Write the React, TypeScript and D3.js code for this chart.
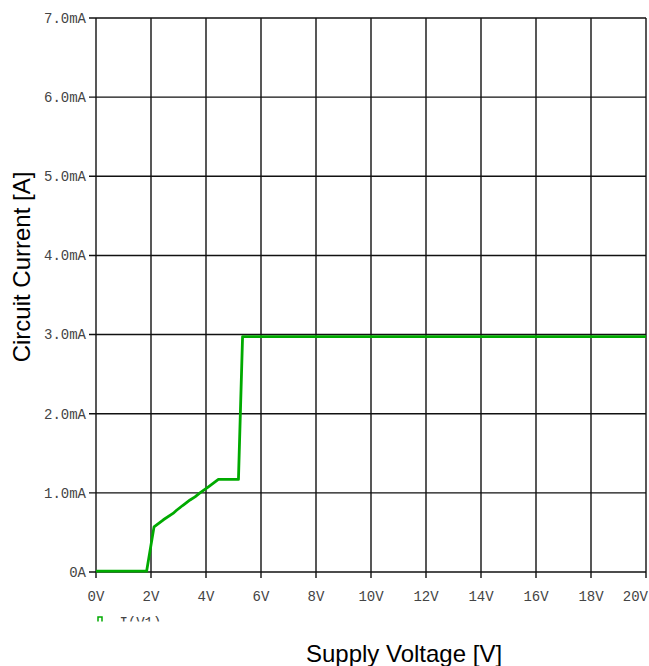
import React from 'react';
import * as d3 from 'd3';

// supply voltage [V] and circuit current [mA]
const voltage = [0, 1.84, 2.11, 2.45, 2.8, 2.93, 3.15, 3.42, 3.6, 3.78, 4.1, 4.45, 5.18, 5.33, 20];
const current = [0.01, 0.01, 0.57, 0.66, 0.74, 0.78, 0.84, 0.91, 0.95, 1.0, 1.08, 1.17, 1.17, 2.975, 2.975];

const xTicks = [0, 2, 4, 6, 8, 10, 12, 14, 16, 18, 20];
const yTicks = [0, 1, 2, 3, 4, 5, 6, 7];
const xTickLabels = xTicks.map(v => `${v}V`);
const yTickLabels = yTicks.map(v => (v === 0 ? '0A' : `${v.toFixed(1)}mA`));

const seriesName = '-I(V1)';

const width = 649;
const height = 666;
const left = 96;
const right = 646;
const top = 18;
const bottom = 572;

export default function App() {
  const x = d3.scaleLinear().domain([0, 20]).range([left, right]);
  const y = d3.scaleLinear().domain([0, 7]).range([bottom, top]);

  const points: [number, number][] = voltage.map((v, i) => [v, current[i]]);
  const line = d3.line<[number, number]>()
    .x(d => x(d[0]))
    .y(d => y(d[1]));

  const tickFont = '"Liberation Mono", "DejaVu Sans Mono", monospace';
  const titleFont = '"Liberation Sans", Arial, sans-serif';

  return (
    <svg
      width={width}
      height={height}
      style={{ position: 'absolute', left: 0, top: 0, background: '#fff' }}
    >
      <defs>
        <clipPath id="legendClip">
          <rect x={0} y={0} width={width} height={621.5} />
        </clipPath>
      </defs>

      {/* grid */}
      {xTicks.map(t => (
        <line key={`gx${t}`} x1={x(t)} x2={x(t)} y1={top} y2={bottom + 6} stroke="#111" strokeWidth={1.4} />
      ))}
      {yTicks.map(t => (
        <line key={`gy${t}`} x1={left - 7} x2={right} y1={y(t)} y2={y(t)} stroke="#111" strokeWidth={1.4} />
      ))}

      {/* tick labels */}
      {yTicks.map((t, i) => (
        <text
          key={`ly${t}`}
          x={left - 10}
          y={y(t)}
          dy="0.35em"
          textAnchor="end"
          fontFamily={tickFont}
          fontSize={14}
          fill="#444"
        >
          {yTickLabels[i]}
        </text>
      ))}
      {xTicks.map((t, i) => {
        const last = i === xTicks.length - 1;
        return (
          <text
            key={`lx${t}`}
            x={last ? width - 1 : x(t)}
            y={601}
            textAnchor={last ? 'end' : 'middle'}
            fontFamily={tickFont}
            fontSize={14}
            fill="#444"
          >
            {xTickLabels[i]}
          </text>
        );
      })}

      {/* trace */}
      <path d={line(points) || ''} fill="none" stroke="#00aa00" strokeWidth={2.8} strokeLinejoin="round" />

      {/* legend, cut off at the bottom */}
      <g clipPath="url(#legendClip)">
        <rect x={98} y={617} width={4} height={6} fill="none" stroke="#00aa00" strokeWidth={1.5} />
        <text x={111} y={627} fontFamily={tickFont} fontSize={14} fill="#444">{seriesName}</text>
      </g>

      {/* axis titles */}
      <text
        x={404}
        y={654}
        dy="0.35em"
        textAnchor="middle"
        fontFamily={titleFont}
        fontSize={24}
        fill="#000"
      >
        Supply Voltage [V]
      </text>
      <text
        transform="translate(22,267) rotate(-90)"
        textAnchor="middle"
        dy="0.35em"
        fontFamily={titleFont}
        fontSize={24}
        fill="#000"
      >
        Circuit Current [A]
      </text>
    </svg>
  );
}
